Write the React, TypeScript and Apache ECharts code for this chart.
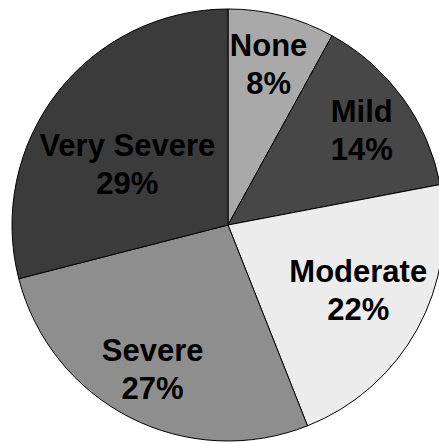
import React, { useEffect, useRef } from "react";
import * as echarts from "echarts";

const categories = ["None", "Mild", "Moderate", "Severe", "Very Severe"];
const percents = [8, 14, 22, 27, 29];

const sliceColors = ["#a9a9a9", "#474747", "#ececec", "#8e8e8e", "#3b3b3b"];
const labelOffsets: [number, number][] = [
  [13, -53],
  [44, -29],
  [33, 12],
  [-25, 46],
  [-13, 8],
];

export default function App() {
  const ref = useRef<HTMLDivElement>(null);
  useEffect(() => {
    if (!ref.current) return;
    const chart = echarts.init(ref.current, null, { renderer: "svg" });
    chart.setOption({
      animation: false,
      backgroundColor: "#ffffff",
      series: [
        {
          type: "pie",
          center: [228, 225],
          radius: [0, 216],
          startAngle: 90,
          clockwise: true,
          avoidLabelOverlap: false,
          itemStyle: { borderColor: "#000", borderWidth: 1 },
          label: {
            show: true,
            position: "inside",
            formatter: "{b}\n{c}%",
            fontFamily: "Liberation Sans, Arial, sans-serif",
            fontWeight: "bold",
            fontSize: 31,
            lineHeight: 38,
            color: "#000",
          },
          labelLine: { show: false },
          emphasis: { disabled: true },
          data: categories.map((name, i) => ({
            name,
            value: percents[i],
            itemStyle: { color: sliceColors[i] },
            label: { offset: labelOffsets[i] },
          })),
        },
      ],
    });
    return () => chart.dispose();
  }, []);
  return (
    <div
      ref={ref}
      style={{ position: "absolute", left: 0, top: 0, width: 439, height: 443 }}
    />
  );
}
